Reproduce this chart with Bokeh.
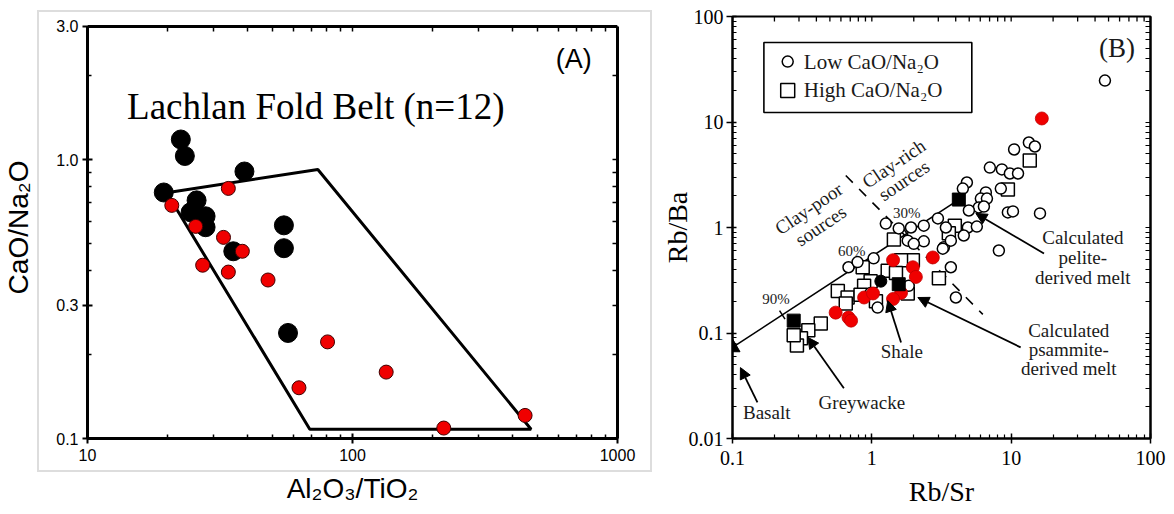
import math

from bokeh.core.properties import value
from bokeh.embed import file_html
from bokeh.layouts import row
from bokeh.models import (Arrow, ColumnDataSource, CustomJSTickFormatter, FixedTicker,
                          InlineStyleSheet, LogAxis, NormalHead)
from bokeh.plotting import figure
from bokeh.resources import INLINE

SERIF = "Liberation Serif"
SANS = "Liberation Sans"
RED = "#f00000"

# ---------------- Panel A: Lachlan Fold Belt, CaO/Na2O vs Al2O3/TiO2 ----------------
lfb_black_x = [22.5, 23.3, 39.1, 19.4, 25.8, 24.5, 27.9, 27.9, 35.5, 55.1, 55.1, 57.1]
lfb_black_y = [1.18, 1.03, 0.906, 0.762, 0.714, 0.647, 0.626, 0.572, 0.469, 0.581, 0.481, 0.239]

lfb_red_x = [34.0, 20.8, 25.6, 32.6, 38.4, 27.2, 34.0, 48.0, 80.5, 134, 62.8, 221, 448]
lfb_red_y = [0.788, 0.685, 0.576, 0.526, 0.469, 0.418, 0.395, 0.370, 0.222, 0.173, 0.152, 0.109, 0.121]

# outline of the strongly peraluminous melt field
field_x = [19.9, 74.0, 472, 69.0, 19.9]
field_y = [0.76, 0.921, 0.108, 0.108, 0.76]

a_xrange = (10, 1000)
a_ybox = (0.1, 3.0)          # extent of the drawn box
a_yview = (0.1, 3.257)       # a little headroom above the box
a_xticks = [10, 100, 1000]
a_yticks = [0.1, 0.3, 1.0, 3.0]

# ---------------- Panel B: Rb/Ba vs Rb/Sr ----------------
low_x = [47.1, 10.5, 13.4, 14.8, 7.03, 8.58, 9.79, 11.2, 8.43, 4.81, 4.50, 6.58, 6.06, 6.70,
         9.47, 10.3, 16.1, 5.86, 6.37, 4.97, 4.89, 5.67, 4.57, 3.29, 3.69, 8.16, 2.98, 1.26,
         1.56, 1.91, 2.36, 3.40, 1.81, 2.36, 3.23, 1.03, 0.68, 0.79, 0.98, 1.10, 1.84, 3.69,
         4.01, 2.0]
low_y = [24.7, 5.49, 6.39, 5.86, 3.70, 3.55, 3.25, 3.25, 2.34, 2.67, 2.34, 2.15, 1.88, 1.88,
         1.39, 1.42, 1.36, 1.55, 1.58, 1.45, 1.00, 1.02, 0.84, 0.65, 0.75, 0.605, 1.22, 1.09,
         0.98, 1.00, 1.04, 1.00, 0.75, 0.74, 0.63, 0.51, 0.42, 0.47, 0.24, 0.174, 0.28, 0.42,
         0.217, 0.70]

high_x = [13.6, 9.47, 3.94, 3.57, 3.03, 1.44, 1.97, 1.62, 0.86, 1.30, 1.49, 0.98, 0.88, 0.57,
          0.67, 1.81, 0.65, 0.43, 0.35, 0.31, 0.29, 0.275, 0.83, 1.07]
high_y = [4.32, 2.29, 1.04, 0.88, 0.33, 0.77, 0.49, 0.49, 0.42, 0.39, 0.37, 0.31, 0.28, 0.25,
          0.217, 0.237, 0.19, 0.123, 0.106, 0.089, 0.076, 0.095, 0.23, 0.20]

lfb_b_x = [16.6, 2.74, 1.42, 1.97, 2.07, 0.88, 1.02, 1.62, 1.42, 0.55, 0.68, 0.71]
lfb_b_y = [10.8, 0.52, 0.49, 0.42, 0.34, 0.217, 0.237, 0.24, 0.21, 0.156, 0.14, 0.131]

ref_sq_x = [0.275, 1.56, 4.21]
ref_sq_y = [0.131, 0.29, 1.84]
ref_ci_x = [1.16]
ref_ci_y = [0.31]

basalt_x = [0.1]
basalt_y = [0.073]

# basalt - pelite mixing line and the marked percentages along it
mix_x = [0.1, 4.21]
mix_y = [0.073, 1.84]
mix_frac = [0.22, 0.55, 0.77]
mix_labels = ["90%", "60%", "30%"]

# clay-poor / clay-rich divide
divide_x = [0.65, 6.26]
divide_y = [3.11, 0.150]

# arrows from the captions to the reference compositions
arrow_x0 = [17.2, 11.7, 1.62, 0.63, 0.151]
arrow_y0 = [0.567, 0.073, 0.0813, 0.030, 0.022]
arrow_x1 = [5.58, 2.14, 1.30, 0.347, 0.114]
arrow_y1 = [1.36, 0.217, 0.203, 0.091, 0.047]

b_xrange = (0.1, 100)
b_yrange = (0.01, 100)
b_xticks = [0.1, 1, 10, 100]
b_yticks = [0.01, 0.1, 1, 10, 100]


def decade_minors(lo_exp, hi_exp, skip=()):
    out = []
    for e in range(lo_exp, hi_exp):
        for m in range(2, 10):
            v = round(m * 10 ** e, 6)
            if v not in skip:
                out.append(v)
    return out


plain = CustomJSTickFormatter(code="return String(parseFloat(tick.toPrecision(6)))")
one_dec = CustomJSTickFormatter(code="return tick.toFixed(1)")


def style_axis(ax, width, font, size, tin, tout, minor_in):
    ax.axis_line_width = width
    ax.axis_line_color = "black"
    ax.major_tick_line_width = max(1.5, width - 1)
    ax.minor_tick_line_width = max(1.2, width - 1.5)
    ax.major_tick_in = tin
    ax.major_tick_out = tout
    ax.minor_tick_in = minor_in
    ax.minor_tick_out = 0
    ax.major_label_text_font = font
    ax.major_label_text_font_size = size
    ax.major_label_text_color = "black"
    ax.axis_label_text_font_style = "normal"
    ax.axis_label_text_color = "black"


def frame_only_axis(majors, minors, width, **kw):
    # inward tick marks along the far edge of the box, without labels
    ax = LogAxis(ticker=FixedTicker(ticks=[], minor_ticks=sorted(list(majors) + list(minors))), **kw)
    style_axis(ax, width, SANS, "12px", 0, 0, 5)
    ax.major_label_standoff = 0
    ax.axis_label_standoff = 0
    return ax


def clear_title(p):
    if p.title is not None:
        p.title.visible = False
        p.title.text_font_size = "0px"
        p.title.standoff = 0


# ---------------- figure A ----------------
A_W = 655
pA = figure(width=A_W, height=514, x_axis_type="log", y_axis_type="log",
            x_range=a_xrange, y_range=a_yview,
            output_backend="svg", toolbar_location=None,
            min_border_left=86, min_border_right=A_W - 617,
            min_border_top=16, min_border_bottom=76)
clear_title(pA)
pA.grid.visible = False
pA.outline_line_color = None
pA.background_fill_color = "white"
pA.border_fill_color = "white"

a_xminors = decade_minors(1, 3)
a_yminors = [t for t in decade_minors(-1, 1) if t <= 3 and t not in (0.3, 3)]

xa = pA.xaxis[0]
xa.ticker = FixedTicker(ticks=a_xticks, minor_ticks=a_xminors)
xa.formatter = plain
style_axis(xa, 3, SANS, "16px", 5, 5, 4)
xa.major_label_standoff = 5
xa.axis_label = "Al₂O₃/TiO₂"
xa.axis_label_text_font = SANS
xa.axis_label_text_font_size = "28px"
xa.axis_label_standoff = 9

ya = pA.yaxis[0]
ya.ticker = FixedTicker(ticks=a_yticks, minor_ticks=a_yminors)
ya.formatter = one_dec
ya.bounds = a_ybox
style_axis(ya, 3, SANS, "16px", 5, 5, 4)
ya.major_label_standoff = 4
ya.axis_label = "CaO/Na₂O"
ya.axis_label_text_font = SANS
ya.axis_label_text_font_size = "28px"
ya.axis_label_standoff = 19

# top edge of the box pinned at CaO/Na2O = 3.0, right edge limited to the box height
pA.add_layout(frame_only_axis(a_xticks, a_xminors, 3, fixed_location=a_ybox[1]), "above")
pA.add_layout(frame_only_axis(a_yticks, a_yminors, 3, bounds=a_ybox), "right")

pA.line(field_x, field_y, line_color="black", line_width=3)
pA.scatter(lfb_black_x, lfb_black_y, marker="circle", size=19,
           fill_color="black", line_color="black")
pA.scatter(lfb_red_x, lfb_red_y, marker="circle", size=14,
           fill_color=RED, line_color="#400000", line_width=1)

pA.text(x=[14.1], y=[1.546], text=["Lachlan Fold Belt (n=12)"],
        text_font=value(SERIF), text_font_size=value("37px"),
        text_align="left", text_baseline="alphabetic", text_color="black")
pA.text(x=[684], y=[2.29], text=["(A)"],
        text_font=value(SANS), text_font_size=value("27px"),
        text_align="center", text_baseline="middle", text_color="black")

pA.stylesheets = [InlineStyleSheet(css="""
:host::after {
  content: "";
  position: absolute;
  left: 37px; top: 10px; width: 615px; height: 462px;
  border: 2px solid #dddddd;
  box-sizing: border-box;
  pointer-events: none;
}
""")]

# ---------------- figure B ----------------
B_W = 1174 - A_W
pB = figure(width=B_W, height=514, x_axis_type="log", y_axis_type="log",
            x_range=b_xrange, y_range=b_yrange,
            output_backend="svg", toolbar_location=None,
            min_border_left=732 - A_W, min_border_right=24,
            min_border_top=16, min_border_bottom=75)
clear_title(pB)
pB.grid.visible = False
# the frame outline supplies the top edge of the box
pB.outline_line_color = "black"
pB.outline_line_width = 2
pB.background_fill_color = "white"
pB.border_fill_color = "white"

b_xminors = decade_minors(-1, 2)
b_yminors = decade_minors(-2, 2)

xb = pB.xaxis[0]
xb.ticker = FixedTicker(ticks=b_xticks, minor_ticks=b_xminors)
xb.formatter = plain
style_axis(xb, 2, SERIF, "20px", 5, 5, 4)
xb.major_label_standoff = 7
xb.axis_label = "Rb/Sr"
xb.axis_label_text_font = SERIF
xb.axis_label_text_font_size = "28px"
xb.axis_label_standoff = 8

yb = pB.yaxis[0]
yb.ticker = FixedTicker(ticks=b_yticks, minor_ticks=b_yminors)
yb.formatter = plain
style_axis(yb, 2, SERIF, "20px", 4, 6, 4)
yb.major_label_standoff = 3
yb.axis_label = "Rb/Ba"
yb.axis_label_text_font = SERIF
yb.axis_label_text_font_size = "28px"
yb.axis_label_standoff = -7

pB.add_layout(frame_only_axis(b_yticks, b_yminors, 2), "right")

# inward tick marks hanging from the top edge (about 5 px long on the log scale)
top_ticks = sorted(b_xticks + b_xminors)
drop = 10 ** (5 / 105.5)
pB.segment(x0=top_ticks, y0=[b_yrange[1]] * len(top_ticks),
           x1=top_ticks, y1=[b_yrange[1] / drop] * len(top_ticks),
           line_color="black", line_width=1.3)

# mixing line with its percentage marks
pB.line(mix_x, mix_y, line_color="black", line_width=1.6)
lx0, lx1 = math.log10(mix_x[0]), math.log10(mix_x[1])
ly0, ly1 = math.log10(mix_y[0]), math.log10(mix_y[1])
mtick_x = [10 ** (lx0 + f * (lx1 - lx0)) for f in mix_frac]
mtick_y = [10 ** (ly0 + f * (ly1 - ly0)) for f in mix_frac]
pB.scatter(mtick_x, mtick_y, marker="dash", size=10, angle=123, angle_units="deg",
           line_color="black", line_width=1.5)
pB.text(x=[0.205, 0.718, 1.78], y=[0.212, 0.605, 1.36], text=mix_labels,
        text_font=value(SERIF), text_font_size=value("15px"),
        text_align="center", text_baseline="middle", text_color="#222222")

pB.line(divide_x, divide_y, line_color="black", line_width=1.6, line_dash="10 9")

pB.scatter(high_x, high_y, marker="square", size=13, fill_color="white",
           line_color="black", line_width=1.5)
pB.scatter(low_x, low_y, marker="circle", size=11, fill_color="white",
           line_color="black", line_width=1.5)
pB.scatter(lfb_b_x, lfb_b_y, marker="circle", size=13, fill_color=RED,
           line_color="#c00000", line_width=0.8)
pB.scatter(ref_sq_x, ref_sq_y, marker="square", size=13, fill_color="black",
           line_color="black")
pB.scatter(ref_ci_x, ref_ci_y, marker="circle", size=12, fill_color="black",
           line_color="black")
pB.scatter(basalt_x, basalt_y, marker="triangle", size=15, fill_color="black",
           line_color="black")

arrows = ColumnDataSource(dict(x0=arrow_x0, y0=arrow_y0, x1=arrow_x1, y1=arrow_y1))
pB.add_layout(Arrow(end=NormalHead(size=11, fill_color="black", line_color="black"),
                    x_start="x0", y_start="y0", x_end="x1", y_end="y1",
                    source=arrows, line_width=1.8, line_color="black"))

pB.text(x=[32.7, 32.7, 32.7, 25.9, 25.9, 25.9, 1.64, 0.848, 0.176],
        y=[0.804, 0.519, 0.336, 0.1056, 0.0698, 0.0461, 0.0668, 0.0219, 0.0176],
        text=["Calculated", "pelite-", "derived melt",
              "Calculated", "psammite-", "derived melt",
              "Shale", "Greywacke", "Basalt"],
        text_font=value(SERIF), text_font_size=value("19px"),
        text_align="center", text_baseline="middle", text_color="#1a1a1a")

pB.text(x=[0.353, 0.43, 1.44, 1.70], y=[1.51, 1.04, 4.04, 2.79],
        text=["Clay-poor", "sources", "Clay-rich", "sources"],
        angle=34, angle_units="deg",
        text_font=value(SERIF), text_font_size=value("19px"),
        text_align="center", text_baseline="middle", text_color="#1a1a1a")

pB.text(x=[57.4], y=[50.8], text=["(B)"], text_font=value(SERIF),
        text_font_size=value("27px"), text_align="center", text_baseline="middle",
        text_color="#1a1a1a")

# legend box
pB.quad(left=[0.168], right=[5.22], bottom=[12.3], top=[56.7],
        fill_color="white", line_color="black", line_width=1.6)
pB.scatter([0.249], [37.4], marker="circle", size=11, fill_color="white",
           line_color="black", line_width=1.5)
pB.scatter([0.249], [19.9], marker="square", size=14, fill_color="white",
           line_color="black", line_width=1.5)
pB.text(x=[0.325, 0.325], y=[37.4, 19.9], text=["Low CaO/Na₂O", "High CaO/Na₂O"],
        text_font=value(SERIF), text_font_size=value("21px"),
        text_align="left", text_baseline="middle", text_color="#1a1a1a")

layout = row(pA, pB)
open("out.html", "w").write(file_html(layout, INLINE))
